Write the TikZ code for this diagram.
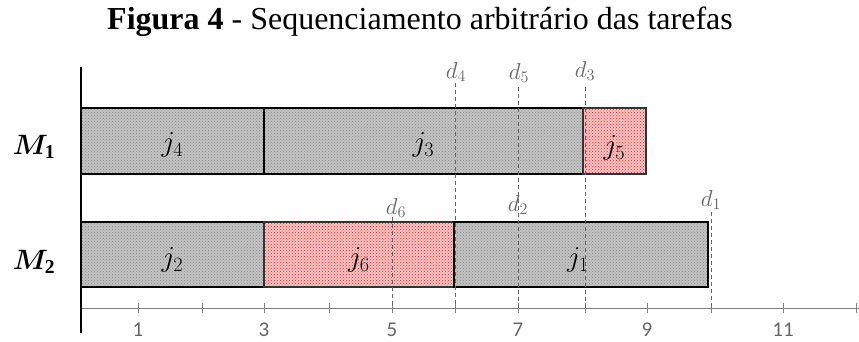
\RequirePackage{fix-cm}
\documentclass[tikz,border=0pt]{standalone}
\usepackage{amsmath}
\usepackage{bm}
\usepackage{fontspec}
\setmainfont{Liberation Serif}
\newfontfamily\tickfont{Carlito}
\usetikzlibrary{patterns}
\definecolor{gfill}{HTML}{C2C2C2}
\definecolor{pfill}{HTML}{F6C4C4}
\definecolor{axgray}{HTML}{7F7F7F}
\definecolor{txtgray}{HTML}{666666}
\tikzset{
  graybox/.style={preaction={fill=gfill},pattern=crosshatch dots,pattern color=black!45,draw=black,line width=1.4pt},
  pinkbox/.style={preaction={fill=pfill},pattern=crosshatch dots,pattern color=red!85,draw=black!80,line width=1.4pt},
  jlab/.style={font=\fontsize{29}{33}\selectfont,inner sep=0pt},
  dlab/.style={font=\fontsize{23}{27}\selectfont,text=txtgray,inner sep=0pt},
  mlab/.style={font=\fontsize{28}{32}\selectfont,inner sep=0pt},
  tlab/.style={font=\tickfont\fontsize{21}{25}\selectfont,text=txtgray,inner sep=0pt},
  dline/.style={axgray!80!black,dash pattern=on 4pt off 3pt,line width=0.8pt},
  tickline/.style={axgray,line width=1pt}
}
\begin{document}
\begin{tikzpicture}[x=1pt,y=-1pt]
\useasboundingbox (0,0) rectangle (859,342);
% title
\node[inner sep=0pt,font=\fontsize{32}{37}\selectfont] (title) at (420,22) {\textbf{Figura 4} - Sequenciamento arbitrário das tarefas};
% boxes M1
\path[graybox] (81,108) rectangle (264,174);
\path[graybox] (264,108) rectangle (583,174);
\path[pinkbox] (583,108) rectangle (646,174);
% boxes M2
\path[graybox] (81,222) rectangle (264,287);
\path[pinkbox] (264,222) rectangle (454,287);
\path[graybox] (454,222) rectangle (708,287);
\node[jlab] (j4) at (172.5,145) {$j_4$};
\node[jlab] (j3) at (423.5,145) {$j_3$};
\node[jlab] (j5) at (614.5,148) {$j_5$};
\node[jlab] (j2) at (172.5,260) {$j_2$};
\node[jlab] (j6) at (359,260) {$j_6$};
\node[jlab] (j1) at (578,260) {$j_1$};
% machine labels
\node[mlab] (m1) at (34,147) {$\bm{M}_{\mathbf{1}}$};
\node[mlab] (m2) at (34,262) {$\bm{M}_{\mathbf{2}}$};
% axes
\coordinate (ax0) at (81,308);
\coordinate (ax1) at (859,308);
\draw[tickline] (ax0) -- (ax1);
\foreach \x/\l in {138/1,202/,264/3,329/,392/5,455/,518/7,585/,647/9,711/,783/11,856/}{
  \draw[tickline] (\x,303) -- (\x,313);
  \node[tlab] at (\x,330) {\l};
}
\coordinate (vtop) at (81,67);
\coordinate (vbot) at (81,333);
\draw[black,line width=1.6pt] (vtop) -- (vbot);
% due dates
\node[dlab] (d4) at (456,72) {$d_4$};
\node[dlab] (d5) at (519,73) {$d_5$};
\node[dlab] (d3) at (585,71) {$d_3$};
\node[dlab] (d6) at (396,208) {$d_6$};
\node[dlab] (d2) at (518,205) {$d_2$};
\node[dlab] (d1) at (711,200) {$d_1$};
\coordinate (d4b) at (455,308);
\coordinate (d5b) at (518,308);
\coordinate (d3b) at (585,308);
\coordinate (d6b) at (392,308);
\coordinate (d1b) at (711,308);
\draw[dline] (455,83) -- (d4b);
\draw[dline] (518,87) -- (d5b);
\draw[dline] (585,87) -- (d3b);
\draw[dline] (392,217) -- (d6b);
\draw[dline] (711,212) -- (d1b);
\end{tikzpicture}
\end{document}
